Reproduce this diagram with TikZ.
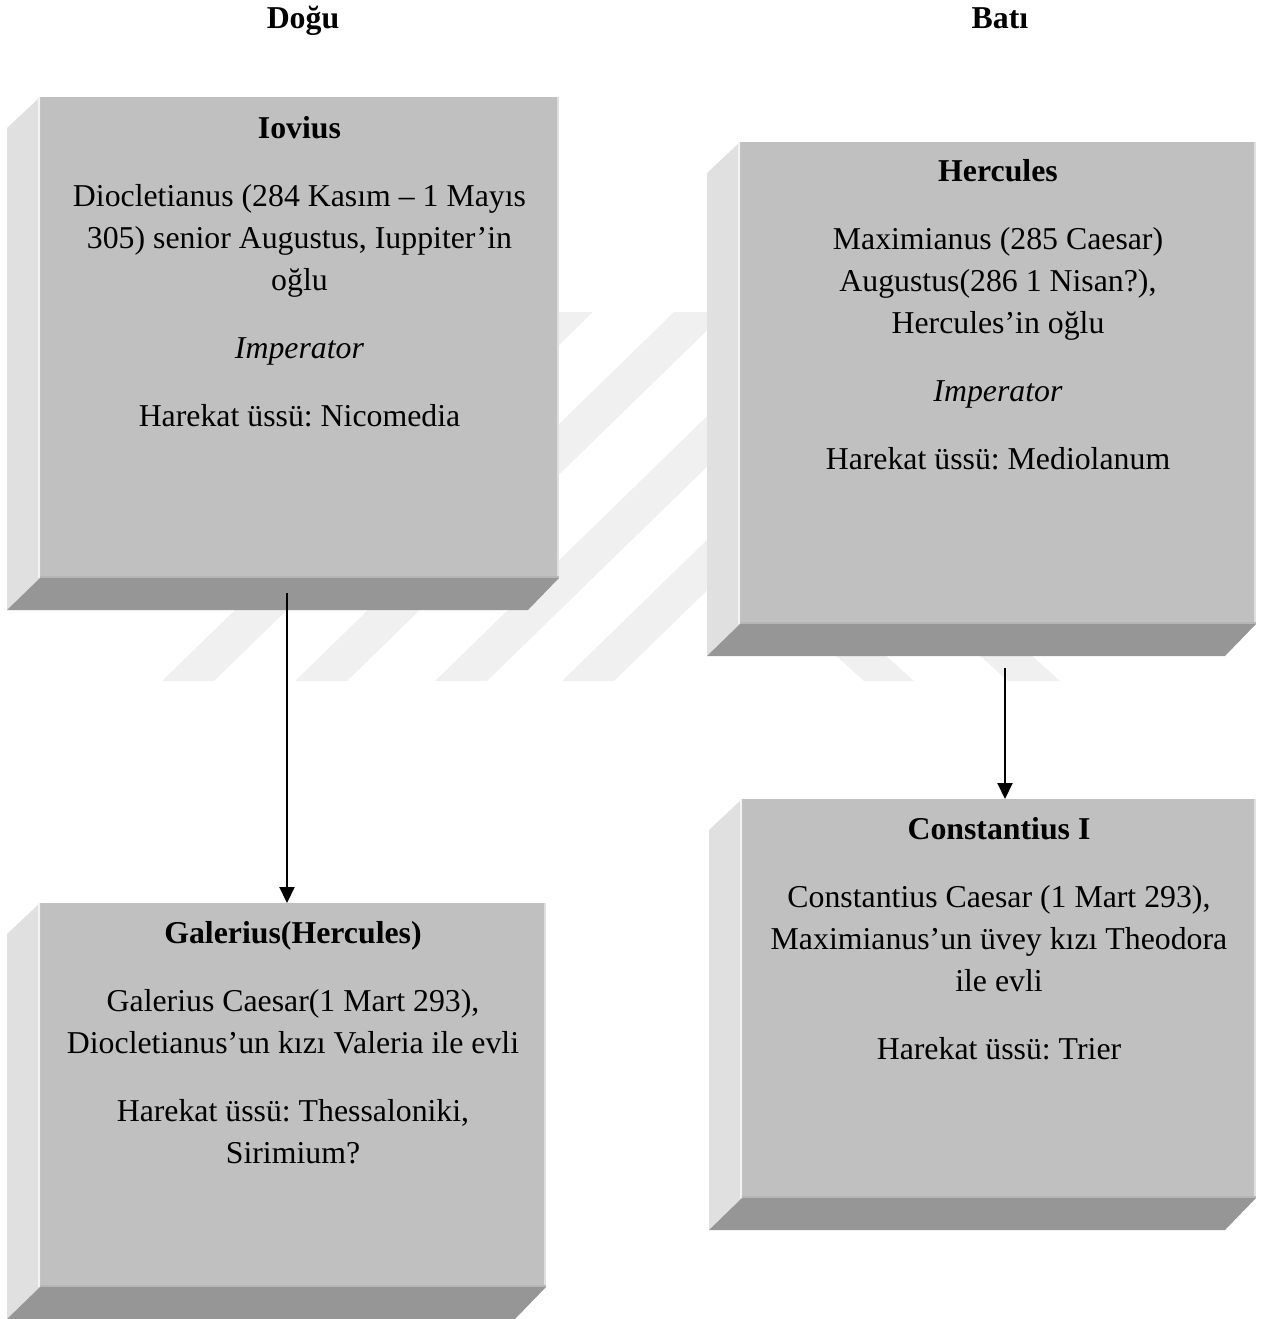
\documentclass[tikz,border=0pt]{standalone}
\usepackage{fontspec}
\setmainfont{Liberation Serif}
\usetikzlibrary{arrows.meta,positioning}
\frenchspacing

\definecolor{facegray}{RGB}{192,192,192}
\definecolor{sidegray}{RGB}{224,224,224}
\definecolor{basegray}{RGB}{150,150,150}
\definecolor{markgray}{RGB}{240,240,240}

\tikzset{
  face/.style={fill=facegray, inner sep=0pt, outer sep=0pt},
  boxtext/.style={align=center, inner sep=0pt, font=\fontsize{15.9}{21}\selectfont},
  head/.style={anchor=base, inner sep=0pt, font=\fontsize{15.9}{21}\selectfont\bfseries},
  link/.style={line width=1pt, -{Triangle[length=8pt,width=7.5pt]}},
  wmark/.style={fill=markgray}
}

% bevelled sides of a box drawn round its face node
\newcommand{\bevelsides}[1]{
  \fill[sidegray] ([xshift=-16.5pt,yshift=-15.5pt]#1.north west) -- (#1.north west)
    -- (#1.south west) -- ([xshift=-16.5pt,yshift=-16pt]#1.south west) -- cycle;
  \fill[basegray] (#1.south west) -- (#1.south east)
    -- ([xshift=-15.5pt,yshift=-16pt]#1.south east) -- ([xshift=-16.5pt,yshift=-16pt]#1.south west) -- cycle;
  \draw[white!60!sidegray, line width=1pt] ([xshift=-0.5pt]#1.north west) -- ([xshift=-0.5pt]#1.south west);
  \draw[white!50!facegray, line width=1pt] ([xshift=-0.5pt]#1.north east) -- ([xshift=-0.5pt]#1.south east);
  \draw[black!5!facegray, line width=1pt] ([yshift=0.5pt]#1.south west) -- ([yshift=0.5pt]#1.south east);
}

\begin{document}
\begin{tikzpicture}[x=0.5pt, y=-0.5pt]
\useasboundingbox (0,0) rectangle (1263,1319);

% watermark
\fill[wmark] (162,681) -- (214,681) -- (593,312) -- (541,312) -- cycle;
\fill[wmark] (295,681) -- (347,681) -- (726,312) -- (674,312) -- cycle;
\fill[wmark] (435,681) -- (487,681) -- (866,312) -- (814,312) -- cycle;
\fill[wmark] (562,681) -- (614,681) -- (993,312) -- (941,312) -- cycle;
\fill[wmark] (864,681) -- (914,681) -- (780,560) -- (730,560) -- cycle;
\fill[wmark] (1008,681) -- (1060,681) -- (926,560) -- (874,560) -- cycle;

\node[head] (dogu) at (303,28) {Doğu};
\node[head] (bati) at (1000,28) {Batı};

\node[face, minimum width=259.5pt, minimum height=240.5pt] (iovius) at (299.5,337.5) {};
\node[face, minimum width=258pt, minimum height=241pt] (hercules) at (998,383) {};
\node[face, minimum width=253pt, minimum height=192pt] (galerius) at (293,1095) {};
\node[face, minimum width=257pt, minimum height=199.5pt] (constantius) at (999,998.5) {};
\bevelsides{iovius}
\bevelsides{hercules}
\bevelsides{galerius}
\bevelsides{constantius}

\node[boxtext, below=5.8pt of iovius.north] (iovius-text) {\strut\textbf{Iovius}\\[13pt]
  Diocletianus (284 Kasım – 1 Mayıs\\ 305) senior Augustus, Iuppiter’in\\ oğlu\\[13pt]
  \textit{Imperator}\\[13pt] Harekat üssü: Nicomedia};
\node[boxtext, below=4.8pt of hercules.north] (hercules-text) {\strut\textbf{Hercules}\\[13pt]
  Maximianus (285 Caesar)\\ Augustus(286 1 Nisan?),\\ Hercules’in oğlu\\[13pt]
  \textit{Imperator}\\[13pt] Harekat üssü: Mediolanum};
\node[boxtext, below=5.3pt of galerius.north] (galerius-text) {\strut\textbf{Galerius(Hercules)}\\[13pt]
  Galerius Caesar(1 Mart 293),\\ Diocletianus’un kızı Valeria ile evli\\[13pt]
  Harekat üssü: Thessaloniki,\\ Sirimium?};
\node[boxtext, below=5.3pt of constantius.north] (constantius-text) {\strut\textbf{Constantius I}\\[13pt]
  Constantius Caesar (1 Mart 293),\\ Maximianus’un üvey kızı Theodora\\ ile evli\\[13pt]
  Harekat üssü: Trier};

\draw[link] ([xshift=-6.25pt,yshift=-7.5pt]iovius.south) coordinate (a1) -- (a1 |- galerius.north);
\draw[link] ([xshift=3.5pt,yshift=-22pt]hercules.south) coordinate (a2) -- (a2 |- constantius.north);
\end{tikzpicture}
\end{document}
